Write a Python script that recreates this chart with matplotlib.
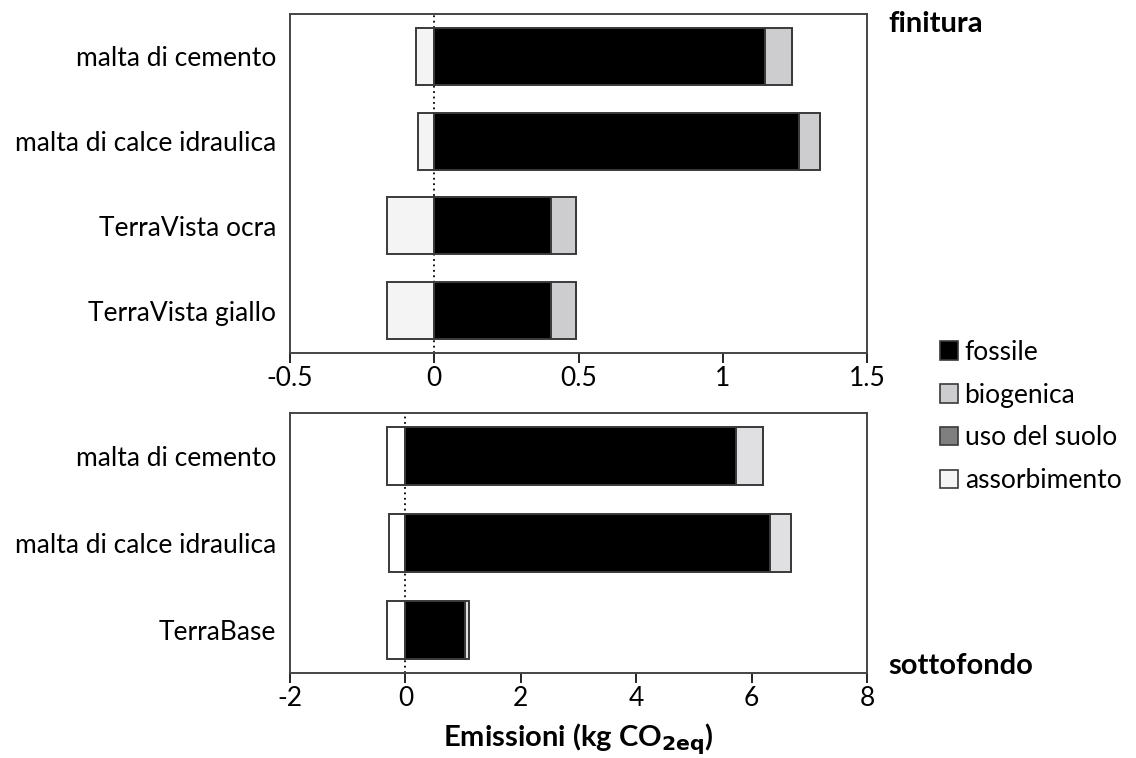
import numpy as np
import matplotlib.pyplot as plt
from matplotlib.patches import Patch

plt.rcParams['font.family'] = ['Lato', 'DejaVu Sans']
plt.rcParams['axes.unicode_minus'] = False

# finitura (top panel)
top_cats = ['malta di cemento', 'malta di calce idraulica', 'TerraVista ocra', 'TerraVista giallo']
top_fossile = [1.146, 1.266, 0.404, 0.404]
top_biogenica = [0.093, 0.071, 0.088, 0.088]
top_suolo = [0.0, 0.0, 0.0, 0.0]
top_assorb = [-0.064, -0.057, -0.165, -0.165]
top_ticks = [-0.5, 0, 0.5, 1, 1.5]
top_ticklabels = ['-0.5', '0', '0.5', '1', '1.5']

# sottofondo (bottom panel)
bot_cats = ['malta di cemento', 'malta di calce idraulica', 'TerraBase']
bot_fossile = [5.73, 6.32, 1.03]
bot_biogenica = [0.46, 0.37, 0.07]
bot_suolo = [0.0, 0.0, 0.0]
bot_assorb = [-0.32, -0.29, -0.32]
bot_ticks = [-2, 0, 2, 4, 6, 8]

legend_labels = ['fossile', 'biogenica', 'uso del suolo', 'assorbimento']
legend_colors = ['#000000', '#cdcdcf', '#7f7f7f', '#f3f4f3']

edge = '#3a3a3a'
fs = 19


def draw_panel(ax, cats, fossile, biogenica, suolo, assorb, assorb_color, bio_color):
    y = np.arange(len(cats))
    h = 0.67
    ax.axvline(0, color='black', linestyle=(0, (1, 2)), lw=1.3, zorder=1)
    ax.barh(y, assorb, height=h, color=assorb_color, edgecolor=edge, lw=1.4, zorder=2)
    ax.barh(y, fossile, height=h, color='black', edgecolor=edge, lw=1.4, zorder=2)
    left = np.array(fossile)
    ax.barh(y, biogenica, left=left, height=h, color=bio_color, edgecolor=edge, lw=1.4, zorder=2)
    left = left + np.array(biogenica)
    ax.barh(y, suolo, left=left, height=h, color='#7f7f7f', edgecolor=edge, lw=1.4, zorder=2)
    ax.set_yticks(y)
    ax.set_yticklabels(cats, fontsize=fs)
    ax.set_ylim(len(cats) - 0.5, -0.5)
    ax.tick_params(axis='y', length=0, pad=10)
    ax.tick_params(axis='x', direction='out', length=7, width=1.2, labelsize=fs, pad=2)
    for s in ax.spines.values():
        s.set_color('#444444')
        s.set_linewidth(1.4)


fig = plt.figure(figsize=(11.36, 7.58), dpi=100)

ax1 = fig.add_axes([0.2553, 0.5343, 0.5079, 0.4472])
draw_panel(ax1, top_cats, top_fossile, top_biogenica, top_suolo, top_assorb, '#f3f4f3', '#cdcdcf')
ax1.set_xlim(-0.5, 1.5)
ax1.set_xticks(top_ticks)
ax1.set_xticklabels(top_ticklabels)

ax2 = fig.add_axes([0.2553, 0.1121, 0.5079, 0.343])
draw_panel(ax2, bot_cats, bot_fossile, bot_biogenica, bot_suolo, bot_assorb, 'white', '#e0e0e2')
ax2.set_xlim(-2, 8)
ax2.set_xticks(bot_ticks)
ax2.set_xlabel('Emissioni (kg CO$_{\\mathbf{2eq}}$)', fontsize=21, fontweight='bold', labelpad=8)

fig.text(888 / 1136, 1 - 24 / 758, 'finitura', fontsize=21, fontweight='bold', va='center')
fig.text(888 / 1136, 1 - 666 / 758, 'sottofondo', fontsize=21, fontweight='bold', va='center')

handles = [Patch(facecolor=c, edgecolor=edge, lw=1.2) for c in legend_colors]
fig.legend(handles, legend_labels, loc='upper left', bbox_to_anchor=(929 / 1136, 1 - 329 / 758),
           frameon=False, fontsize=fs, handlelength=0.7, handleheight=0.7,
           handletextpad=0.25, labelspacing=0.68, borderaxespad=0)

fig.savefig('out.png', dpi=100)
